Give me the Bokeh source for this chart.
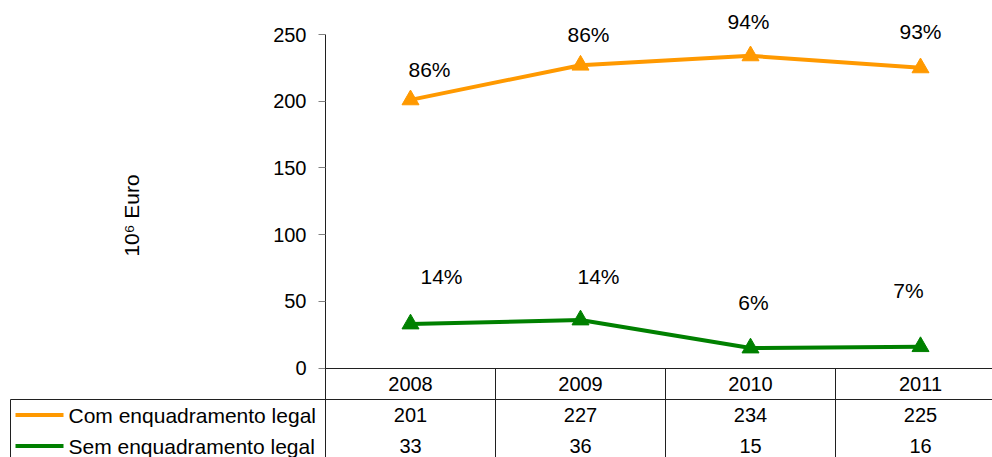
from bokeh.plotting import figure
from bokeh.models import Range1d, FixedTicker, ColumnDataSource
from bokeh.core.properties import value
from bokeh.embed import file_html
from bokeh.resources import INLINE

# ---------------- data ----------------
years = ["2008", "2009", "2010", "2011"]
com_legal = [201, 227, 234, 225]
sem_legal = [33, 36, 15, 16]
com_pct = ["86%", "86%", "94%", "93%"]
sem_pct = ["14%", "14%", "6%", "7%"]
series_names = ["Com enquadramento legal", "Sem enquadramento legal"]
y_ticks = [0, 50, 100, 150, 200, 250]
y_label = "10\u2076 Euro"

# ---------------- layout / style ----------------
ORANGE = "#FF9900"
GREEN = "#008000"
LINE = "#202020"
FONT = "Liberation Sans"
W, H = 992, 457
COL_PX = 170          # width of one category column (px)
FRAME_LEFT = 325      # canvas px where the plot frame starts
FRAME_TOP = 34        # canvas px of the y=250 tick
ZERO_PX = 367.5       # canvas px of y=0
FIRST_CENTER = 410    # canvas px of the first category centre
Y_MAX = 250
PX_PER_UNIT = (ZERO_PX - FRAME_TOP) / Y_MAX
ROW_TOPS = [368, 399, 430]   # table rows (header, series 1, series 2)
ROW_PX = 31
YLABEL_POS = (131, 215)      # canvas px centre of the y-axis title

# label nudges (screen px: dx right, dy up) for the percentage labels
com_nudge = [(19, 30), (8, 31), (-2, 34), (0, 36)]
sem_nudge = [(31, 47), (18, 43), (3, 45), (-12, 56)]


def px_to_x(px):
    return (px - FIRST_CENTER) / COL_PX


def px_to_y(px):
    return (ZERO_PX - px) / PX_PER_UNIT


idx = list(range(len(years)))

p = figure(width=W, height=H, output_backend="svg", toolbar_location=None,
           x_range=Range1d(px_to_x(FRAME_LEFT), px_to_x(W)),
           y_range=Range1d(px_to_y(H), Y_MAX),
           x_axis_location=None, y_axis_location="left",
           min_border_left=FRAME_LEFT, min_border_right=0,
           min_border_top=FRAME_TOP, min_border_bottom=0)
p.outline_line_color = None
p.grid.visible = False
p.background_fill_color = "white"
p.border_fill_color = "white"

ax = p.yaxis[0]
ax.ticker = FixedTicker(ticks=y_ticks)
ax.minor_tick_line_color = None
ax.major_tick_in = 0
ax.major_tick_out = 7
ax.major_tick_line_color = "#808080"
ax.axis_line_color = LINE
ax.major_label_text_font = FONT
ax.major_label_text_font_size = "20px"
ax.major_label_text_color = "black"
ax.major_label_standoff = 12

# y-axis title (placed explicitly so it sits beside the 0-250 range)
p.text(x=[px_to_x(YLABEL_POS[0])], y=[px_to_y(YLABEL_POS[1])], text=[y_label],
       angle=90, angle_units="deg", text_font=value(FONT), text_font_size="21px",
       text_color="black", text_align="center", text_baseline="middle",
       level="overlay")

# ---------------- lines, markers, percentage labels ----------------
for vals, pcts, nudge, color in [(com_legal, com_pct, com_nudge, ORANGE),
                                  (sem_legal, sem_pct, sem_nudge, GREEN)]:
    src = ColumnDataSource(dict(x=idx, y=vals, t=pcts,
                                dx=[n[0] for n in nudge],
                                dy=[-n[1] for n in nudge]))
    p.line("x", "y", source=src, line_color=color, line_width=4, level="overlay")
    p.scatter("x", "y", source=src, marker="triangle", size=17,
              fill_color=color, line_color=color, level="overlay")
    p.text("x", "y", text="t", source=src, x_offset="dx", y_offset="dy",
           text_font=value(FONT), text_font_size="21px", text_color="black",
           text_align="center", text_baseline="middle", level="overlay")

# ---------------- data table ----------------
x_left = px_to_x(10)
x_right = px_to_x(W + 40)
y_bottom = px_to_y(H + 40)
row_y = [px_to_y(t) for t in ROW_TOPS]
row_mid = [px_to_y(t + ROW_PX / 2) for t in ROW_TOPS]

col_edges = [i - 0.5 for i in range(len(years) + 1)]
p.segment(x0=col_edges, y0=[row_y[0]] * len(col_edges), x1=col_edges,
          y1=[y_bottom] * len(col_edges), line_color=LINE, line_width=1, level="overlay")
p.segment(x0=[x_left], y0=[row_y[1]], x1=[x_left], y1=[y_bottom],
          line_color=LINE, line_width=1, level="overlay")
p.segment(x0=[-0.5, x_left], y0=[row_y[0], row_y[1]], x1=[x_right, x_right],
          y1=[row_y[0], row_y[1]], line_color=LINE, line_width=1, level="overlay")

p.text(x=idx, y=[row_mid[0]] * len(idx), text=years, text_font=value(FONT),
       text_font_size="20px", text_color="black", text_align="center",
       text_baseline="middle", level="overlay")
for r, (vals, name, color) in enumerate([(com_legal, series_names[0], ORANGE),
                                          (sem_legal, series_names[1], GREEN)]):
    yc = row_mid[r + 1]
    p.text(x=idx, y=[yc] * len(idx), text=[str(v) for v in vals],
           text_font=value(FONT), text_font_size="20px", text_color="black",
           text_align="center", text_baseline="middle", level="overlay")
    p.segment(x0=[px_to_x(15)], y0=[yc], x1=[px_to_x(63)], y1=[yc],
              line_color=color, line_width=4, level="overlay")
    p.scatter(x=[px_to_x(40)], y=[yc], marker="triangle", size=14,
              fill_color=color, line_color=color, level="overlay")
    p.text(x=[px_to_x(68)], y=[yc], text=[name], text_font=value(FONT),
           text_font_size="21px", text_color="black", text_align="left",
           text_baseline="middle", level="overlay")

open("out.html", "w").write(file_html(p, INLINE))
